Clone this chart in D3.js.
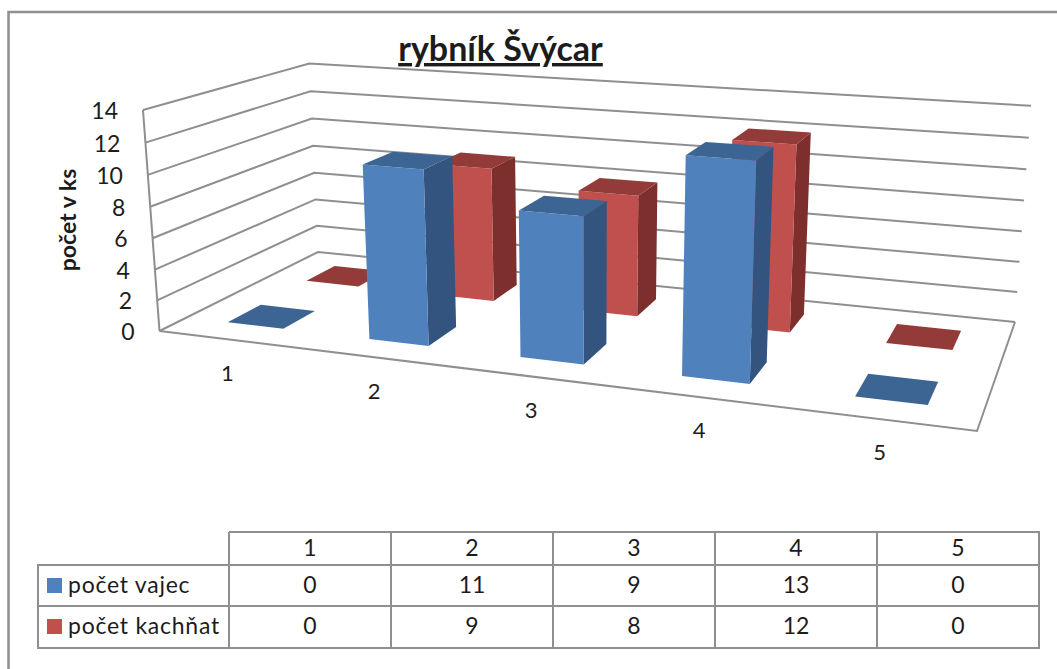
<!DOCTYPE html>
<html>
<head>
<meta charset="utf-8">
<script src="https://cdn.jsdelivr.net/npm/d3@7"></script>
<style>
html,body{margin:0;padding:0;background:#fff}
svg{display:block}
text{font-family:Lato,"Open Sans",sans-serif;fill:#1c1c1c}
</style>
</head>
<body>
<svg id="chart" width="1057" height="669"></svg>
<script>
// Chart data
const title = "rybník Švýcar";
const yTitle = "počet v ks";
const categories = ["1", "2", "3", "4", "5"];
const seriesNames = ["počet vajec", "počet kachňat"];
const vajec = [0, 11, 9, 13, 0];
const kachnat = [0, 9, 8, 12, 0];
const yTicks = [0, 2, 4, 6, 8, 10, 12, 14];

// Series appearance: front face, top face, side face
const shades = [
  {front: "#4f81bd", top: "#3d6593", side: "#32547f"},
  {front: "#c0504d", top: "#923b38", side: "#7c2f2d"}
];
const gridColor = "#8f8f8f";

const svg = d3.select("#chart");

// Floor corners on screen: front-left, front-right, back-right, back-left
const floorQuad = [[159.5, 331], [977, 431], [1015, 322], [318, 252]];
// Screen positions of the box's upper corners at the top of the value axis
const topFrontLeft = [143, 110];
const topBackLeft = [310, 64];
const topBackRight = [1031, 105];

// Projective floor mapping from the unit square
function floorCoefficients(q) {
  const [[x0, y0], [x1, y1], [x2, y2], [x3, y3]] = q;
  const dx1 = x1 - x2, dx2 = x3 - x2, sx = x0 - x1 + x2 - x3;
  const dy1 = y1 - y2, dy2 = y3 - y2, sy = y0 - y1 + y2 - y3;
  const den = dx1 * dy2 - dx2 * dy1;
  const g = (sx * dy2 - dx2 * sy) / den;
  const h = (dx1 * sy - sx * dy1) / den;
  return {
    a: x1 - x0 + g * x1, b: x3 - x0 + h * x3, c: x0,
    d: y1 - y0 + g * y1, e: y3 - y0 + h * y3, f: y0, g, h
  };
}
const K = floorCoefficients(floorQuad);

// Height term of the camera: a least-squares fit to the two rear upper corners
const r = (() => {
  let num = 0, den = 0;
  [[0, 1, topBackLeft], [1, 1, topBackRight]].forEach(([u, v, pt]) => {
    const w = K.g * u + K.h * v + 1;
    const ax = K.a * u + K.b * v + K.c, ay = K.d * u + K.e * v + K.f;
    [[topFrontLeft[0], pt[0], ax, K.c], [topFrontLeft[1], pt[1], ay, K.f]].forEach(([p0, pt1, A, c0]) => {
      const alpha = p0 - pt1, beta = pt1 * w - A - p0 + c0;
      num += alpha * beta; den += alpha * alpha;
    });
  });
  return num / den;
})();
const p = topFrontLeft[0] * (1 + r) - K.c;
const q = topFrontLeft[1] * (1 + r) - K.f;

const yScale = d3.scaleLinear().domain([0, 14]).range([0, 1]);
const xBand = d3.scaleBand().domain(categories).range([0, 1]);
const zBand = d3.scaleBand().domain(seriesNames).range([0, 1]);

// Project category position u, depth v and a value onto the screen
function project(u, v, value) {
  const t = yScale(value);
  const w = K.g * u + K.h * v + 1 + r * t;
  return [(K.a * u + K.b * v + K.c + p * t) / w, (K.d * u + K.e * v + K.f + q * t) / w];
}
const poly = pts => pts.map(pt => pt.map(n => n.toFixed(1)).join(",")).join(" ");

// Walls and floor
const gridG = svg.append("g").attr("fill", "none").attr("stroke", gridColor).attr("stroke-width", 2);
gridG.selectAll("polyline.grid").data(yTicks).join("polyline")
  .attr("class", "grid")
  .attr("points", v => poly([project(0, 0, v), project(0, 1, v), project(1, 1, v)]));
gridG.append("polyline").attr("points", poly([project(0, 0, 0), project(0, 0, 14)]));
gridG.append("polyline").attr("points", poly([project(1, 1, 0), project(1, 0, 0), project(0, 0, 0)]));

// Bars, rear series first so the front series covers it
const barW = xBand.bandwidth() * 0.4, barD = zBand.bandwidth() * 0.4;
[1, 0].forEach(si => {
  const values = si === 0 ? vajec : kachnat;
  const dFront = zBand(seriesNames[si]) + (zBand.bandwidth() - barD) / 2;
  const dBack = dFront + barD;
  const g = svg.append("g");
  categories.forEach((c, i) => {
    const u0 = xBand(c) + (xBand.bandwidth() - barW) / 2, u1 = u0 + barW, v = values[i];
    if (v > 0) {
      g.append("polygon").attr("fill", shades[si].side)
        .attr("points", poly([project(u1, dFront, 0), project(u1, dBack, 0), project(u1, dBack, v), project(u1, dFront, v)]));
      g.append("polygon").attr("fill", shades[si].front)
        .attr("points", poly([project(u0, dFront, 0), project(u1, dFront, 0), project(u1, dFront, v), project(u0, dFront, v)]));
    }
    g.append("polygon").attr("fill", shades[si].top)
      .attr("points", poly([project(u0, dFront, v), project(u1, dFront, v), project(u1, dBack, v), project(u0, dBack, v)]));
  });
});

// Value axis labels
svg.append("g").selectAll("text").data(yTicks).join("text")
  .attr("x", v => project(0, 0, v)[0] - 25)
  .attr("y", v => project(0, 0, v)[1] + 9)
  .attr("text-anchor", "end").attr("font-size", 23)
  .text(d => d);

// Category labels below the front edge
svg.append("g").selectAll("text").data(categories).join("text")
  .attr("x", c => project(xBand(c) + xBand.bandwidth() / 2, 0, 0)[0] - 2)
  .attr("y", c => project(xBand(c) + xBand.bandwidth() / 2, 0, 0)[1] + 41)
  .attr("text-anchor", "middle").attr("font-size", 22)
  .text(d => d);

// Titles
svg.append("text").attr("x", 500.5).attr("y", 61).attr("text-anchor", "middle")
  .attr("font-size", 34).attr("font-weight", 700).attr("text-decoration", "underline")
  .text(title);
svg.append("text").attr("transform", "translate(76,220) rotate(-90)")
  .attr("text-anchor", "middle").attr("font-size", 23).attr("font-weight", 700)
  .text(yTitle);

// Data table under the plot
const colX = d3.scaleBand().domain(categories).range([229, 1039]);
const rowY = d3.scaleOrdinal().domain(seriesNames).range([565, 606]);
const tableTop = 532, tableLeft = 38;
const tableG = svg.append("g").attr("stroke", gridColor).attr("stroke-width", 2).attr("fill", "none");
tableG.append("path").attr("d",
  `M229,${tableTop}H1039V648H${tableLeft}V565H1039M${tableLeft},606H1039M229,${tableTop}V648`);
categories.forEach(c => tableG.append("path").attr("d", `M${colX(c) + colX.bandwidth()},${tableTop}V648`));

const cellText = svg.append("g").attr("text-anchor", "middle").attr("font-size", 23);
categories.forEach((c, i) => {
  const x = colX(c) + colX.bandwidth() / 2;
  cellText.append("text").attr("x", x).attr("y", 556).text(c);
  seriesNames.forEach((s, si) => {
    const v = (si === 0 ? vajec : kachnat)[i];
    cellText.append("text").attr("x", x).attr("y", rowY(s) + 28).text(v);
  });
});
seriesNames.forEach((s, si) => {
  svg.append("rect").attr("x", 47).attr("y", rowY(s) + 13).attr("width", 15).attr("height", 15)
    .attr("fill", shades[si].front);
  svg.append("text").attr("x", 68).attr("y", rowY(s) + 28).attr("font-size", 23)
    .attr("letter-spacing", 0.75).text(s);
});

// Outer chart frame
svg.append("path").attr("d", "M8.5,669V12H1057").attr("fill", "none").attr("stroke", gridColor).attr("stroke-width", 2.5);
</script>
</body>
</html>
